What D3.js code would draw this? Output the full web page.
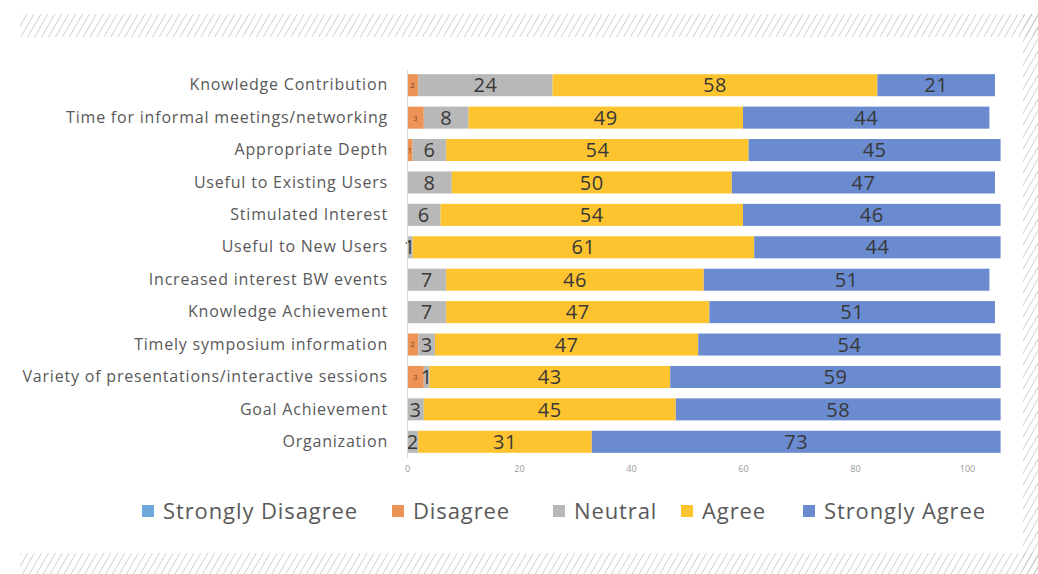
<!DOCTYPE html>
<html><head><meta charset="utf-8">
<script src="https://cdn.jsdelivr.net/npm/d3@7"></script>
<style>html,body{margin:0;padding:0;background:#fff;}svg{display:block;}</style>
</head><body>
<svg id="chart" width="1038" height="574"></svg>
<script>
const categories = ["Knowledge Contribution","Time for informal meetings/networking","Appropriate Depth","Useful to Existing Users","Stimulated Interest","Useful to New Users","Increased interest BW events","Knowledge Achievement","Timely symposium information","Variety of presentations/interactive sessions","Goal Achievement","Organization"];
const seriesNames = ["Strongly Disagree","Disagree","Neutral","Agree","Strongly Agree"];
const stronglyDisagree = [0,0,0,0,0,0,0,0,0,0,0,0];
const disagree        = [2,3,1,0,0,0,0,0,2,3,0,0];
const neutral         = [24,8,6,8,6,1,7,7,3,1,3,2];
const agree           = [58,49,54,50,54,61,46,47,47,43,45,31];
const stronglyAgree   = [21,44,45,47,46,44,51,51,54,59,58,73];
const xTicks = [0,20,40,60,80,100];
const colors = ["#6FA8DC","#EE9356","#B8B8B8","#FEC42F","#6A8BD0"];

const svg = d3.select("#chart");

// hatched border
const defs = svg.append("defs");
const pat = defs.append("pattern").attr("id","hatch").attr("patternUnits","userSpaceOnUse")
  .attr("width",6).attr("height",6).attr("patternTransform","rotate(30)");
pat.append("line").attr("x1",0).attr("y1",0).attr("x2",0).attr("y2",6)
  .attr("stroke","#bdbdbd").attr("stroke-width",1.3);
svg.append("rect").attr("x",20).attr("y",14).attr("width",1018).attr("height",23).attr("fill","url(#hatch)");
svg.append("rect").attr("x",1023).attr("y",14).attr("width",15).attr("height",560).attr("fill","url(#hatch)");
svg.append("rect").attr("x",20).attr("y",553).attr("width",1018).attr("height",21).attr("fill","url(#hatch)");

const data = categories.map((c,i)=>({cat:c,
  "Strongly Disagree":stronglyDisagree[i],"Disagree":disagree[i],"Neutral":neutral[i],
  "Agree":agree[i],"Strongly Agree":stronglyAgree[i]}));
const stack = d3.stack().keys(seriesNames)(data);

const x = d3.scaleLinear().domain([0,106]).range([407,1000.6]);
const y = d3.scaleBand().domain(categories).range([69,458]).paddingInner(0.32).paddingOuter(0.16);
const color = d3.scaleOrdinal().domain(seriesNames).range(colors);

const layers = svg.append("g").selectAll("g").data(stack).join("g").attr("fill",d=>color(d.key));
layers.selectAll("rect").data(d=>d.filter(s=>s[1]-s[0]>0)).join("rect")
  .attr("x",d=>x(d[0])).attr("y",d=>y(d.data.cat))
  .attr("width",d=>x(d[1])-x(d[0])).attr("height",y.bandwidth());

// value labels
const lab = svg.append("g").attr("font-family","'Open Sans',sans-serif").attr("fill","#3a3a3a");
stack.forEach(layer=>{
  layer.forEach(d=>{
    const v = d[1]-d[0];
    if(v<=0) return;
    const small = layer.key==="Disagree";
    lab.append("text")
      .attr("x",(x(d[0])+x(d[1]))/2)
      .attr("y",y(d.data.cat)+y.bandwidth()/2)
      .attr("dy","0.36em")
      .attr("text-anchor","middle")
      .attr("font-size",small?8:20)
      .attr("letter-spacing",small?0:0.5)
      .attr("fill",small?"#7a4a2a":"#383838")
      .text(v);
  });
});

// y axis (category labels)
const yAxis = svg.append("g").attr("transform","translate(407,0)")
  .call(d3.axisLeft(y).tickSize(0).tickPadding(19));
yAxis.select(".domain").attr("stroke","#d9d9d9");
yAxis.selectAll("text").attr("font-family","'Open Sans',sans-serif").attr("font-size",16)
  .attr("letter-spacing",0.8).attr("fill","#595959");

// x axis
const xAxis = svg.append("g").attr("transform","translate(0,458)")
  .call(d3.axisBottom(x).tickValues(xTicks).tickSize(0).tickPadding(8));
xAxis.select(".domain").remove();
xAxis.selectAll("text").attr("font-family","'Open Sans',sans-serif").attr("font-size",9).attr("fill","#999");

// legend
const legX = [142,392,553,681,803];
const leg = svg.append("g").attr("font-family","'Open Sans',sans-serif");
seriesNames.forEach((s,i)=>{
  leg.append("rect").attr("x",legX[i]).attr("y",505).attr("width",12).attr("height",12).attr("fill",color(s));
  leg.append("text").attr("x",legX[i]+21).attr("y",511).attr("dy","0.36em")
    .attr("font-size",22).attr("letter-spacing",0.9).attr("fill","#595959").text(s);
});
</script>
</body></html>
